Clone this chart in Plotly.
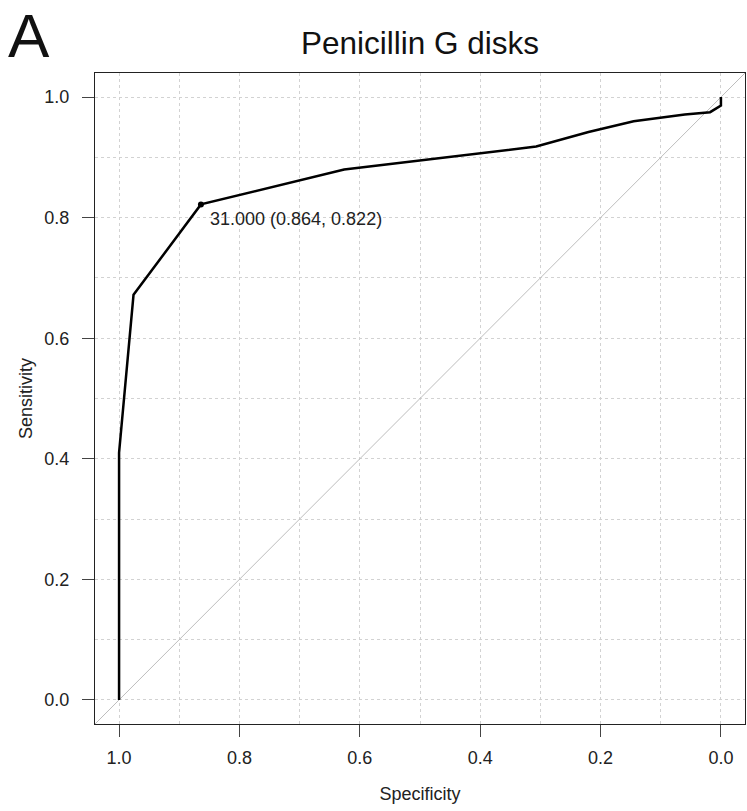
import plotly.graph_objects as go

# ROC curve for penicillin G disk zone diameters
specificity = [1.000, 1.000, 0.976, 0.864, 0.626, 0.307, 0.220, 0.145, 0.060, 0.018, 0.000, 0.000]
sensitivity = [0.000, 0.410, 0.672, 0.822, 0.880, 0.918, 0.942, 0.960, 0.971, 0.975, 0.986, 1.000]

best_threshold = 31.000
best_spec = 0.864
best_sens = 0.822

tick_vals = [0.0, 0.2, 0.4, 0.6, 0.8, 1.0]
tick_text = ["0.0", "0.2", "0.4", "0.6", "0.8", "1.0"]

FONT = "Liberation Sans, Arial, Helvetica, sans-serif"

fig = go.Figure()

# chance line
fig.add_trace(go.Scatter(
    x=[1.04, -0.04], y=[-0.04, 1.04], mode="lines",
    line=dict(color="#bdbdbd", width=1), hoverinfo="skip", showlegend=False,
))

fig.add_trace(go.Scatter(
    x=specificity, y=sensitivity, mode="lines",
    line=dict(color="black", width=2.5), showlegend=False,
))

fig.add_trace(go.Scatter(
    x=[best_spec], y=[best_sens], mode="markers",
    marker=dict(color="black", size=6), showlegend=False,
))

fig.add_annotation(
    x=best_spec, y=best_sens, xref="x", yref="y",
    text=f"{best_threshold:.3f} ({best_spec:.3f}, {best_sens:.3f})",
    showarrow=False, xanchor="left", yanchor="middle",
    xshift=7, yshift=-15, font=dict(family=FONT, size=18, color="#222222"),
)

fig.add_annotation(
    x=-0.137, y=1.058, xref="paper", yref="paper", text="A",
    showarrow=False, xanchor="left", yanchor="middle",
    font=dict(family=FONT, size=62, color="#111111"),
)

axis_common = dict(
    tickvals=tick_vals, ticktext=tick_text,
    showline=True, linecolor="#222222", linewidth=1.2, mirror=True,
    ticks="outside", ticklen=12, tickcolor="#444444", tickwidth=1.2,
    showgrid=True, gridcolor="#d2d2d2", griddash="dot", gridwidth=1,
    zeroline=False,
    minor=dict(dtick=0.1, tick0=0, showgrid=True, gridcolor="#d2d2d2",
               griddash="dot", ticks=""),
    tickfont=dict(family=FONT, size=18, color="#222222"),
    title_font=dict(family=FONT, size=18, color="#222222"),
)

fig.update_xaxes(range=[1.04, -0.04], title_text="Specificity",
                 title_standoff=20, ticklabelstandoff=5, **axis_common)
fig.update_yaxes(range=[-0.04, 1.04], title_text="Sensitivity",
                 title_standoff=6, ticklabelstandoff=9, **axis_common)

fig.update_layout(
    width=747, height=811,
    margin=dict(l=95, r=2, t=73, b=87),
    paper_bgcolor="white", plot_bgcolor="white",
    title=dict(text="Penicillin G disks", x=0.5622, xanchor="center",
               y=0.947, yanchor="middle",
               font=dict(family=FONT, size=31.5, color="#111111")),
)

fig.write_html("out.html")
